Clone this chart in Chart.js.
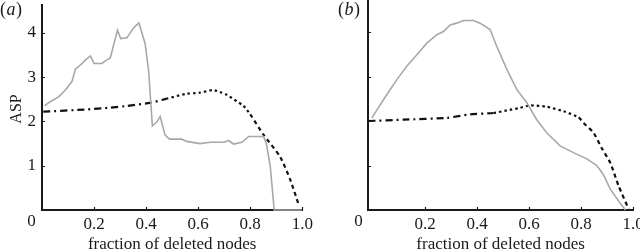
<!DOCTYPE html>
<html>
<head>
<meta charset="utf-8">
<script src="https://cdn.jsdelivr.net/npm/chart.js@4"></script>
<style>
  html, body { margin: 0; padding: 0; background: #fff; }
  .panel { position: absolute; top: 0; width: 320px; height: 252px; }
  #pa { left: 0; }
  #pb { left: 320px; }
</style>
</head>
<body>
<div class="panel" id="pa"><canvas id="chartA" width="320" height="252"></canvas></div>
<div class="panel" id="pb"><canvas id="chartB" width="320" height="252"></canvas></div>
<script>
// tick labels
const xTicks = [0.2, 0.4, 0.6, 0.8, 1.0];
const yTicks = [1, 2, 3, 4];

// panel (a)
const aGrayX = [0.01, 0.03, 0.065, 0.09, 0.115, 0.128, 0.147, 0.167, 0.186, 0.2, 0.23, 0.249, 0.262, 0.29, 0.302, 0.326, 0.338, 0.35, 0.364, 0.372, 0.396, 0.41, 0.424, 0.44, 0.454, 0.473, 0.49, 0.537, 0.556, 0.607, 0.646, 0.70, 0.716, 0.736, 0.768, 0.794, 0.851, 0.862, 0.877, 0.892, 0.998];
const aGrayY = [2.35, 2.44, 2.56, 2.71, 2.9, 3.18, 3.27, 3.39, 3.48, 3.31, 3.31, 3.39, 3.43, 4.06, 3.87, 3.89, 3.99, 4.1, 4.18, 4.23, 3.76, 3.12, 1.9, 1.98, 2.11, 1.69, 1.6, 1.6, 1.55, 1.5, 1.53, 1.53, 1.57, 1.49, 1.53, 1.66, 1.66, 1.5, 0.98, 0, 0];
const aBlackX = [0.005, 0.167, 0.262, 0.326, 0.415, 0.477, 0.55, 0.607, 0.656, 0.69, 0.71, 0.774, 0.8, 0.851, 0.915, 0.954, 0.986];
const aBlackY = [2.22, 2.27, 2.31, 2.35, 2.42, 2.51, 2.62, 2.65, 2.71, 2.65, 2.6, 2.35, 2.16, 1.7, 1.2, 0.68, 0.12];

// panel (b)
const bGrayX = [-0.005, 0.02, 0.052, 0.091, 0.129, 0.168, 0.206, 0.245, 0.27, 0.296, 0.321, 0.347, 0.385, 0.411, 0.43, 0.45, 0.475, 0.514, 0.552, 0.591, 0.629, 0.668, 0.719, 0.77, 0.822, 0.86, 0.885, 0.912, 0.95, 0.97];
const bGrayY = [2.07, 2.3, 2.59, 2.93, 3.23, 3.49, 3.75, 3.94, 4.01, 4.16, 4.2, 4.26, 4.26, 4.2, 4.13, 4.05, 3.68, 3.16, 2.71, 2.41, 2.03, 1.73, 1.44, 1.29, 1.15, 1.0, 0.8, 0.47, 0.15, 0];
const bBlackX = [-0.018, 0.116, 0.283, 0.373, 0.463, 0.514, 0.56, 0.604, 0.668, 0.732, 0.79, 0.815, 0.847, 0.88, 0.912, 0.944, 0.982];
const bBlackY = [2.0, 2.03, 2.07, 2.15, 2.18, 2.24, 2.29, 2.35, 2.32, 2.22, 2.08, 1.92, 1.74, 1.38, 1.06, 0.54, 0.03];

const SERIF = '"Liberation Serif", "DejaVu Serif", serif';
const INK = '#1a1a1a';

function pts(xs, ys) {
  return xs.map((x, i) => ({ x: x, y: ys[i] }));
}

// dash pattern of the black curve changes along the x axis
function blackDash(ctx) {
  const x = ctx.p0.parsed.x;
  if (x < 0.42) return [7, 4, 2, 4];
  if (x < 0.78) return [2.5, 3];
  return [4, 3.5];
}

// inward ticks, corner zero, axis titles, panel letter
const decor = {
  id: 'decor',
  afterDraw(chart) {
    const o = chart.options.plugins.decor;
    const { ctx, chartArea: a } = chart;
    const xs = chart.scales.x, ys = chart.scales.y;
    ctx.save();
    ctx.strokeStyle = INK;
    ctx.lineWidth = 1.2;
    ctx.beginPath();
    yTicks.forEach(v => {
      const py = Math.round(ys.getPixelForValue(v)) + 0.5;
      ctx.moveTo(a.left, py); ctx.lineTo(a.left + 3, py);
    });
    xTicks.forEach(v => {
      const px = Math.round(xs.getPixelForValue(v)) + 0.5;
      ctx.moveTo(px, a.bottom); ctx.lineTo(px, a.bottom - 3);
    });
    ctx.stroke();

    ctx.fillStyle = INK;
    ctx.textAlign = 'center';
    ctx.textBaseline = 'middle';
    ctx.font = '17px ' + SERIF;
    ctx.fillText('0', o.zeroX, 222);

    ctx.font = '17px ' + SERIF;
    ctx.textBaseline = 'alphabetic';
    ctx.fillText('fraction of deleted nodes', (a.left + a.right) / 2, 249);

    if (o.yTitle) {
      ctx.save();
      ctx.translate(17, 109);
      ctx.rotate(-Math.PI / 2);
      ctx.font = '16px ' + SERIF;
      ctx.textBaseline = 'middle';
      ctx.fillText(o.yTitle, 0, 0);
      ctx.restore();
    }

    // panel letter: "(" italic letter ")"
    ctx.textAlign = 'left';
    ctx.textBaseline = 'middle';
    ctx.font = '18px ' + SERIF;
    let px = o.letterX;
    ctx.fillText('(', px, 10);
    px += ctx.measureText('(').width + 0.5;
    ctx.font = 'italic 18px ' + SERIF;
    ctx.fillText(o.letter, px, 10);
    px += ctx.measureText(o.letter).width + 0.5;
    ctx.font = '18px ' + SERIF;
    ctx.fillText(')', px, 10);
    ctx.restore();
  }
};

function makeChart(id, cfg) {
  return new Chart(document.getElementById(id), {
    type: 'line',
    data: {
      datasets: [
        {
          data: pts(cfg.grayX, cfg.grayY),
          borderColor: '#a8a8a8',
          borderWidth: 1.6,
          pointRadius: 0,
          tension: 0,
          clip: 4
        },
        {
          data: pts(cfg.blackX, cfg.blackY),
          borderColor: '#111',
          borderWidth: 2.2,
          pointRadius: 0,
          tension: 0.2,
          clip: 4,
          segment: { borderDash: blackDash }
        }
      ]
    },
    options: {
      responsive: false,
      animation: false,
      events: [],
      layout: { padding: { left: 0, right: cfg.padRight, top: cfg.padTop, bottom: 0 } },
      plugins: {
        legend: { display: false },
        tooltip: { enabled: false },
        decor: cfg.decor
      },
      scales: {
        x: {
          type: 'linear',
          min: cfg.xMin,
          max: 1.0,
          grid: { display: false, drawTicks: false },
          border: { color: INK, width: 2 },
          afterBuildTicks: s => { s.ticks = xTicks.map(v => ({ value: v })); },
          afterFit: s => { s.height = 42; s.paddingLeft = 0; s.paddingRight = 0; },
          ticks: {
            autoSkip: false,
            maxRotation: 0,
            padding: 4,
            color: INK,
            font: { family: SERIF, size: 17 },
            callback: v => v.toFixed(1)
          }
        },
        y: {
          type: 'linear',
          min: 0,
          max: cfg.yMax,
          grid: { display: false, drawTicks: false },
          border: { color: INK, width: 2 },
          afterBuildTicks: s => { s.ticks = yTicks.map(v => ({ value: v })); },
          afterFit: s => { s.width = cfg.yWidth; s.paddingTop = 0; s.paddingBottom = 0; },
          ticks: {
            display: cfg.yLabels,
            padding: 6,
            color: INK,
            font: { family: SERIF, size: 17 }
          }
        }
      }
    },
    plugins: [decor]
  });
}

makeChart('chartA', {
  grayX: aGrayX, grayY: aGrayY, blackX: aBlackX, blackY: aBlackY,
  xMin: 0, yMax: 4.63, padRight: 17.7, padTop: 5, yWidth: 42, yLabels: true,
  decor: { zeroX: 31.5, yTitle: 'ASP', letter: 'a', letterX: 0 }
});

makeChart('chartB', {
  grayX: bGrayX, grayY: bGrayY, blackX: bBlackX, blackY: bBlackY,
  xMin: -0.02, yMax: 4.72, padRight: 6.8, padTop: 0, yWidth: 48, yLabels: false,
  decor: { zeroX: 38.5, yTitle: null, letter: 'b', letterX: 18 }
});
</script>
</body>
</html>
